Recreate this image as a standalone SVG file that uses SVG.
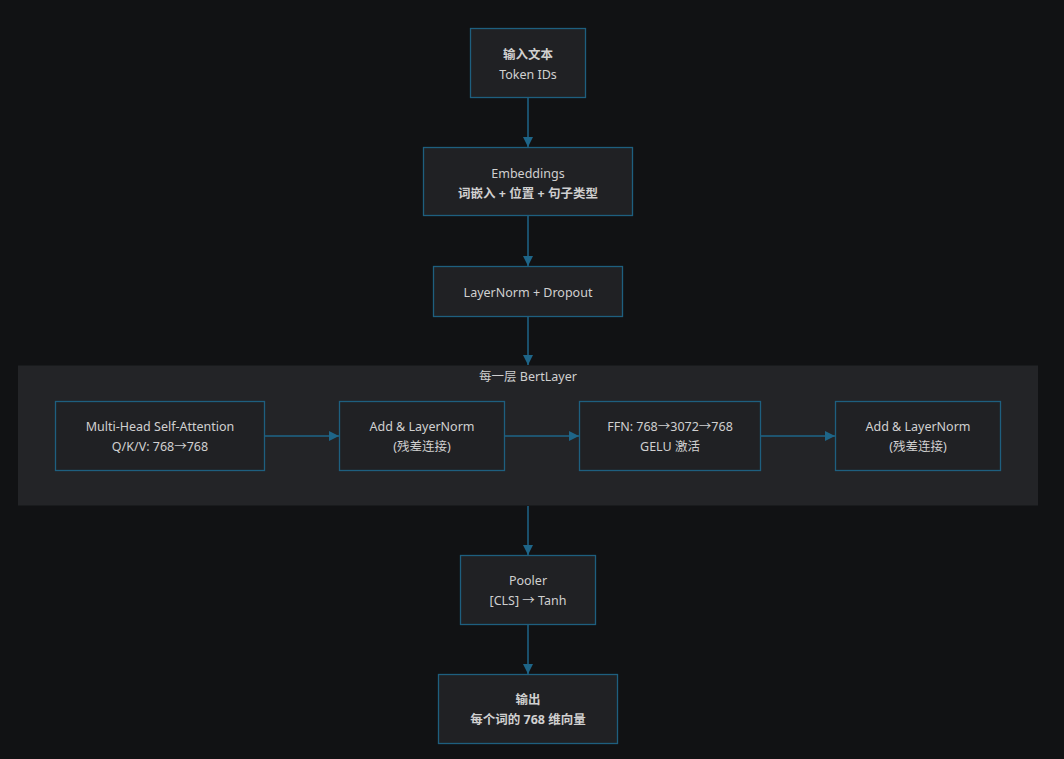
<svg xmlns="http://www.w3.org/2000/svg" width="1064" height="759" viewBox="0 0 1064 759">
<defs>
<style>
.bg{fill:#111214}
.cluster{fill:#232427}
.node rect{fill:#202124;stroke:#1e5f7f;stroke-width:1.3}
text{font-family:"Noto Sans","Noto Sans CJK SC",sans-serif;font-size:12.5px;fill:#d0d0d0;text-anchor:middle}
.b{font-weight:bold}
.edge{stroke:#1e6588;stroke-width:1.5;fill:none}
</style>
<marker id="ah" viewBox="0 0 10 10" refX="10" refY="5" markerWidth="10" markerHeight="10" markerUnits="userSpaceOnUse" orient="auto">
<path d="M0,0 L10,5 L0,10 z" fill="#1e6588"/>
</marker>
</defs>
<rect class="bg" x="0" y="0" width="1064" height="759"/>
<g id="cluster-bertlayer">
<rect class="cluster" x="18" y="365.5" width="1020" height="140"/>
<text x="528" y="381">每一层 BertLayer</text>
</g>
<g id="connectors">
<path class="edge" d="M528,98 L528,147" marker-end="url(#ah)"/>
<path class="edge" d="M528,216 L528,266" marker-end="url(#ah)"/>
<path class="edge" d="M528,317 L528,365" marker-end="url(#ah)"/>
<path class="edge" d="M265,436 L339,436" marker-end="url(#ah)"/>
<path class="edge" d="M505,436 L579,436" marker-end="url(#ah)"/>
<path class="edge" d="M761,436 L835,436" marker-end="url(#ah)"/>
<path class="edge" d="M528,506 L528,555" marker-end="url(#ah)"/>
<path class="edge" d="M528,625 L528,674" marker-end="url(#ah)"/>
</g>
<g id="node-input" class="node">
<rect x="470.5" y="28.5" width="115" height="69"/>
<text class="b" x="528" y="58.5">输入文本</text>
<text x="528" y="78.5">Token IDs</text>
</g>
<g id="node-embeddings" class="node">
<rect x="423.5" y="147.5" width="209" height="68"/>
<text x="528" y="177.5">Embeddings</text>
<text class="b" x="528" y="197.5">词嵌入 + 位置 + 句子类型</text>
</g>
<g id="node-layernorm" class="node">
<rect x="433.5" y="266.5" width="189" height="50"/>
<text x="528" y="296.5">LayerNorm + Dropout</text>
</g>
<g id="node-mhsa" class="node">
<rect x="55.5" y="401.5" width="209" height="69"/>
<text x="160" y="430.5">Multi-Head Self-Attention</text>
<text x="160" y="450.5">Q/K/V: 768→768</text>
</g>
<g id="node-addnorm1" class="node">
<rect x="339.5" y="401.5" width="165" height="69"/>
<text x="422" y="430.5">Add &amp; LayerNorm</text>
<text x="422" y="450.5">(残差连接)</text>
</g>
<g id="node-ffn" class="node">
<rect x="579.5" y="401.5" width="181" height="69"/>
<text x="670" y="430.5">FFN: 768→3072→768</text>
<text x="670" y="450.5">GELU 激活</text>
</g>
<g id="node-addnorm2" class="node">
<rect x="835.5" y="401.5" width="165" height="69"/>
<text x="918" y="430.5">Add &amp; LayerNorm</text>
<text x="918" y="450.5">(残差连接)</text>
</g>
<g id="node-pooler" class="node">
<rect x="460.5" y="555.5" width="135" height="69"/>
<text x="528" y="584.5">Pooler</text>
<text x="528" y="604.5">[CLS] → Tanh</text>
</g>
<g id="node-output" class="node">
<rect x="438.5" y="674.5" width="179" height="69"/>
<text class="b" x="528" y="703.5">输出</text>
<text class="b" x="528" y="723.5">每个词的 768 维向量</text>
</g>
</svg>
